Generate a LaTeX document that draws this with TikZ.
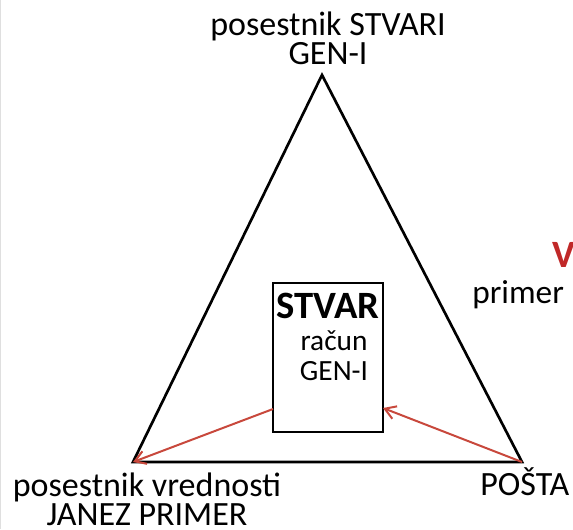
\documentclass[tikz,border=0pt]{standalone}
\usepackage{fontspec}
\setmainfont{Carlito}
\usetikzlibrary{arrows.meta}
\definecolor{arrowred}{RGB}{200,72,60}
\definecolor{titlered}{RGB}{192,40,40}
\tikzset{
  label/.style={font=\fontsize{25.5}{21.5}\selectfont, inner sep=0pt, align=center},
  flow/.style={arrowred, line width=1.5pt, -{Straight Barb[length=8pt,width=10pt]}}
}
\begin{document}
\begin{tikzpicture}[x=0.75pt,y=-0.75pt]
\useasboundingbox (0,0) rectangle (573,529);
\clip (0,0) rectangle (573,529);
\draw[gray!25, line width=1pt] (0.5,0) -- (0.5,529);

\coordinate (top) at (322,75);
\coordinate (left) at (133,462);
\coordinate (right) at (522,462);
\draw[line width=2pt, line join=miter] (top) -- (right) -- (left) -- cycle;

% multi-line labels: base anchor sits on the last line
\node[label, anchor=base] (lbltop) at (328,64) {posestnik STVARI\\GEN-I};
\node[label, anchor=base] (lblleft) at (147,525) {posestnik vrednosti\\JANEZ PRIMER};
\node[label, anchor=base west] (lblright) at (480,495) {POŠTA};

\node[draw, line width=0.8pt, minimum width=82.5pt, minimum height=111.75pt, inner sep=0pt] (box) at (328,357.5) {};
\node[font=\fontsize{29}{30}\selectfont\bfseries, inner sep=0pt, anchor=base] (boxtitle) at (328,318) {STVAR};
\node[label, font=\fontsize{22}{22.5}\selectfont, anchor=base] (boxtext) at (334,380) {račun\\GEN-I};

\coordinate (boxl) at (273,409);
\coordinate (boxr) at (383,408);
\draw[flow] (boxl) -- (left);
\draw[flow] (right) -- (boxr);

\node[font=\fontsize{29}{30}\selectfont\bfseries, text=titlered, anchor=base west, inner sep=0pt] (vtitle) at (552,267) {V};
\node[label, font=\fontsize{25}{26}\selectfont, anchor=base west] (primer) at (472,303) {primer};
\end{tikzpicture}
\end{document}
